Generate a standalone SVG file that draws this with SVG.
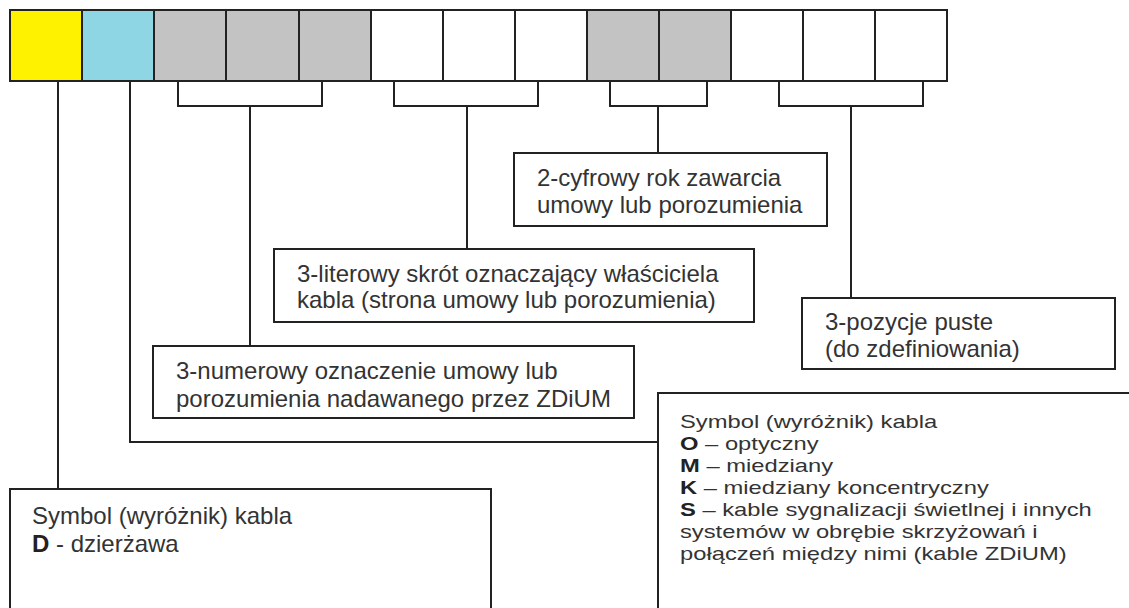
<svg xmlns="http://www.w3.org/2000/svg" width="1129" height="608" viewBox="0 0 1129 608">
<style>
.cell{stroke:#222;stroke-width:2;}
.box{fill:#fff;stroke:#222;stroke-width:2;}
.ln{fill:none;stroke:#222;stroke-width:2;}
.t{font-family:"Liberation Sans",Arial,sans-serif;font-size:24px;fill:#333;}
.r{font-family:"Liberation Sans",Arial,sans-serif;font-size:19px;fill:#333;}
.b{font-weight:bold;fill:#222;}
</style>
<rect width="1129" height="608" fill="#fff"/>
<g id="cells">
<rect class="cell" x="10" y="10" width="72" height="71" fill="#FFF200"/>
<rect class="cell" x="82" y="10" width="72" height="71" fill="#8ED6E3"/>
<rect class="cell" x="154" y="10" width="72" height="71" fill="#C3C3C3"/>
<rect class="cell" x="226" y="10" width="73" height="71" fill="#C3C3C3"/>
<rect class="cell" x="299" y="10" width="72" height="71" fill="#C3C3C3"/>
<rect class="cell" x="371" y="10" width="72" height="71" fill="#fff"/>
<rect class="cell" x="443" y="10" width="72" height="71" fill="#fff"/>
<rect class="cell" x="515" y="10" width="72" height="71" fill="#fff"/>
<rect class="cell" x="587" y="10" width="72" height="71" fill="#C3C3C3"/>
<rect class="cell" x="659" y="10" width="72" height="71" fill="#C3C3C3"/>
<rect class="cell" x="731" y="10" width="72" height="71" fill="#fff"/>
<rect class="cell" x="803" y="10" width="72" height="71" fill="#fff"/>
<rect class="cell" x="875" y="10" width="72" height="71" fill="#fff"/>
</g>
<g id="connectors">
<path class="ln" d="M58 81V489"/>
<path class="ln" d="M130 81V442H658"/>
<path class="ln" d="M178 81V106H322V81M250 106V346"/>
<path class="ln" d="M394 81V106H538V81M467 106V249"/>
<path class="ln" d="M610 81V106H707V81M658 106V153"/>
<path class="ln" d="M779 81V106H923V81M851 106V298"/>
</g>
<g id="box-year">
<rect class="box" x="514" y="153" width="313" height="73"/>
<text class="t" x="537" y="186">2-cyfrowy rok zawarcia</text>
<text class="t" x="537" y="213">umowy lub porozumienia</text>
</g>
<g id="box-owner">
<rect class="box" x="274" y="249" width="480" height="73"/>
<text class="t" x="297" y="282">3-literowy skrót oznaczający właściciela</text>
<text class="t" x="297" y="308">kabla (strona umowy lub porozumienia)</text>
</g>
<g id="box-empty">
<rect class="box" x="802" y="298" width="313" height="71"/>
<text class="t" x="825" y="330">3-pozycje puste</text>
<text class="t" x="825" y="357">(do zdefiniowania)</text>
</g>
<g id="box-number">
<rect class="box" x="153" y="346" width="481" height="72"/>
<text class="t" x="176" y="379">3-numerowy oznaczenie umowy lub</text>
<text class="t" x="176" y="407">porozumienia nadawanego przez ZDiUM</text>
</g>
<g id="box-symbol-d">
<rect class="box" x="10" y="489" width="481" height="200"/>
<text class="t" x="32" y="524">Symbol (wyróżnik) kabla</text>
<text class="t" x="32" y="552"><tspan class="b">D</tspan> - dzierżawa</text>
</g>
<g id="box-symbol-type">
<rect class="box" x="658" y="393" width="500" height="300"/>
<g transform="translate(680 0) scale(1.25 1)">
<text class="r" x="0" y="428">Symbol (wyróżnik) kabla</text>
<text class="r" x="0" y="450"><tspan class="b">O</tspan> – optyczny</text>
<text class="r" x="0" y="472"><tspan class="b">M</tspan> – miedziany</text>
<text class="r" x="0" y="494"><tspan class="b">K</tspan> – miedziany koncentryczny</text>
<text class="r" x="0" y="516"><tspan class="b">S</tspan> – kable sygnalizacji świetlnej i innych</text>
<text class="r" x="0" y="538">systemów w obrębie skrzyżowań i</text>
<text class="r" x="0" y="560">połączeń między nimi (kable ZDiUM)</text>
</g>
</g>
</svg>
